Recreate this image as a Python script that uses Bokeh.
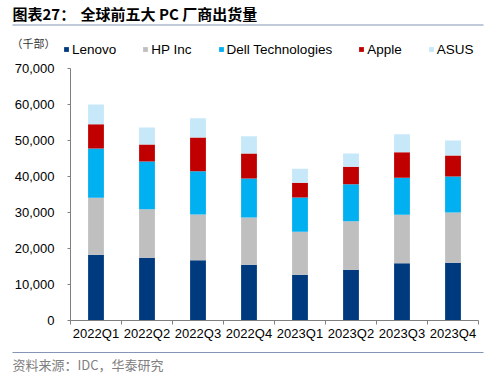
from bokeh.plotting import figure
from bokeh.models import Range1d, Label, Legend, LegendItem, ColumnDataSource
from bokeh.core.properties import value
from bokeh.embed import file_html
from bokeh.resources import INLINE

quarters = ["2022Q1", "2022Q2", "2022Q3", "2022Q4", "2023Q1", "2023Q2", "2023Q3", "2023Q4"]
lenovo = [18240, 17410, 16760, 15460, 12690, 14070, 15930, 16020]
hp = [15830, 13520, 12680, 13150, 11940, 13520, 13420, 13980]
dell = [13710, 13240, 12040, 10830, 9540, 10280, 10280, 10000]
apple = [6750, 4720, 9350, 6950, 4070, 4820, 7130, 5830]
asus = [5470, 4720, 5370, 4810, 3890, 3700, 5000, 4170]
series = ["Lenovo", "HP Inc", "Dell Technologies", "Apple", "ASUS"]
colors = ["#003A7E", "#BFBFBF", "#00B0F0", "#C00000", "#C6E8F9"]
y_ticks = [0, 10000, 20000, 30000, 40000, 50000, 60000, 70000]
y_max = 70000

W, H = 500, 377
PL, PR, PT, PB = 70, 478, 68, 320
n = len(quarters)
XS = (PR - PL) / n
YS = (PB - PT) / y_max


def cx(px):
    return (px - PL) / XS


def cy(py):
    return (PB - py) / YS


AX = "#808080"
LINE = "#8495B5"
FONT = "Liberation Sans"
CJK = "Noto Sans CJK SC"

p = figure(width=W, height=H, output_backend="svg", toolbar_location=None,
           x_range=Range1d(cx(0), cx(W)), y_range=Range1d(cy(H), cy(0)),
           x_axis_type=None, y_axis_type=None,
           min_border_left=0, min_border_right=0, min_border_top=0, min_border_bottom=0)
p.outline_line_color = None
p.grid.visible = False
p.background_fill_color = "white"
p.border_fill_color = "white"

pos = [i + 0.5 for i in range(n)]
src = ColumnDataSource(dict(x=pos, **{"Lenovo": lenovo, "HP Inc": hp,
                                       "Dell Technologies": dell, "Apple": apple, "ASUS": asus}))
rs = p.vbar_stack(series, x="x", width=0.31, color=colors, line_color=None, source=src)

p.segment(x0=[0], y0=[0], x1=[0], y1=[y_max], line_color=AX, line_width=1)
p.segment(x0=[cx(PL - 3)] * len(y_ticks), y0=y_ticks, x1=[0] * len(y_ticks), y1=y_ticks,
          line_color=AX, line_width=1)
p.text(x=[0] * len(y_ticks), y=y_ticks, text=[f"{v:,}" for v in y_ticks],
       x_offset=-16, text_align="right", text_baseline="middle",
       text_font=value(FONT), text_font_size="13px", text_color="#000000")

bounds = list(range(n + 1))
p.segment(x0=[0], y0=[0], x1=[n], y1=[0], line_color=AX, line_width=1)
p.segment(x0=bounds, y0=[0] * len(bounds), x1=bounds, y1=[cy(PB + 4)] * len(bounds),
          line_color=AX, line_width=1)
p.text(x=pos, y=[0] * n, text=quarters, y_offset=5, text_align="center", text_baseline="top",
       text_font=value(FONT), text_font_size="13px", text_color="#000000")

leg = Legend(items=[LegendItem(label=s, renderers=[r]) for s, r in zip(series, rs)],
             orientation="horizontal", location=(63, H - 56.5),
             glyph_width=6, glyph_height=6, label_standoff=3, spacing=26,
             padding=0, margin=0, label_height=15,
             label_text_font=FONT, label_text_font_size="13.5px",
             label_text_color="#000000", border_line_alpha=0, background_fill_alpha=0)
p.add_layout(leg, "center")


def lab(x, y, text, size, color="#000000", bold=False, font=CJK):
    p.add_layout(Label(x=x, y=H - y, x_units="screen", y_units="screen", text=text,
                       text_font=font, text_font_size=size, text_color=color,
                       text_baseline="middle", text_align="left",
                       text_font_style="bold" if bold else "normal"))


lab(12, 13, "图表27：", "15px", bold=True)
lab(80, 13, "全球前五大 PC 厂商出货量", "15px", bold=True)
lab(11, 42, "（千部）", "11px", color="#333333")
lab(12, 364, "资料来源：IDC，华泰研究", "13px", color="#808080")

# rules under the title and above the source
for ry in (24.5, 352):
    p.line(x=[cx(12), cx(483)], y=[cy(ry), cy(ry)], line_color=LINE, line_width=1.2)

open("out.html", "w").write(file_html(p, INLINE))
